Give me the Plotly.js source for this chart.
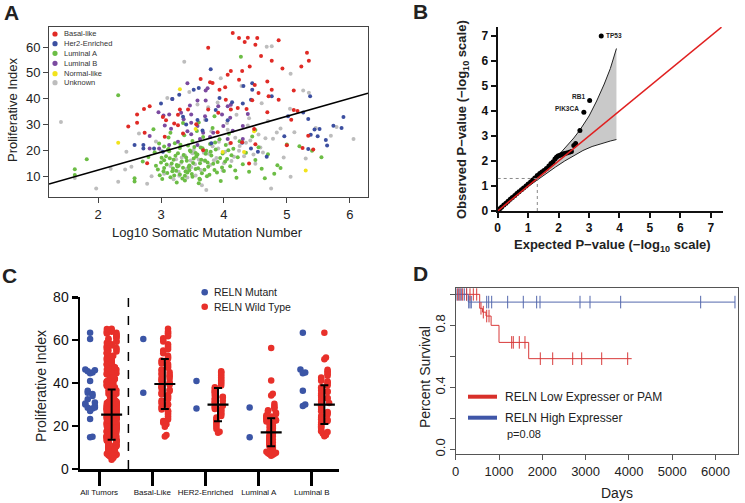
<!DOCTYPE html>
<html><head><meta charset="utf-8">
<script src="https://cdn.plot.ly/plotly-3.0.1.min.js"></script>
<style>html,body{margin:0;padding:0;background:#fff}#p{width:745px;height:503px}</style>
</head><body><div id="p"></div>
<script>
// ---------- Panel A data (Log10 somatic mutation number vs proliferative index) ----------
const basalX=[4.14,4.24,4.38,4.53,4.33,4.50,4.87,3.75,5.32,5.35,4.76,4.59,5.23,4.93,4.11,4.29,4.24,3.63,3.78,3.82,3.93,4.02,4.49,4.69,4.55,4.71,4.76,5.11,4.87,4.45,4.03,4.11,4.22,3.91,3.75,3.43,3.30,3.03,3.08,3.21,2.82,2.73,2.62,2.62,2.48,2.74,3.06,3.27,3.56,3.35,3.90,4.11,4.29,4.48,5.07,5.11,5.17,5.25,5.00,5.42,5.34,4.50,2.78,4.40,3.27,3.67,4.69,4.36,4.41,4.06];
const basalY=[65.4,63.5,63.6,63.5,61.9,60.9,62.6,59.7,57.8,54.7,54.7,56.5,52.4,51.7,50.7,50.7,47.3,47.6,46.3,46.0,43.4,44.4,45.3,46.6,42.2,40.9,43.4,43.1,39.6,39.4,39.6,35.8,36.4,34.5,35.8,35.8,35.8,32.9,31.6,30.3,37.0,36.0,33.8,30.6,29.2,26.8,25.2,29.7,30.1,26.5,27.0,22.8,23.1,28.2,31.8,35.6,35.2,20.9,21.9,20.3,25.6,22.3,14.9,14.8,33.7,20.0,34.7,36.0,52.4,49.2];
const her2X=[3.79,4.31,4.45,4.45,4.76,4.43,4.30,3.60,3.52,3.29,3.18,3.00,3.93,4.13,3.87,3.35,3.72,3.58,3.66,4.06,5.02,5.26,5.37,5.34,5.44,5.52,5.38,5.49,5.62,5.64,5.74,5.87,5.90,5.34,4.96,4.68,4.54,4.43,4.29,3.80,2.58,2.72,2.72,2.89,3.40,3.03];
const her2Y=[51.4,44.9,45.9,43.4,40.9,39.6,38.1,44.1,43.4,41.5,39.8,38.1,40.2,38.6,35.6,33.0,31.7,31.7,27.6,31.6,33.2,34.6,40.9,32.1,28.0,28.2,26.0,25.4,24.0,21.8,29.5,28.6,32.9,20.5,25.4,17.5,19.4,20.7,22.9,22.7,22.0,22.0,20.7,20.7,30.0,19.4];
const lumAX=[1.63,1.63,1.82,2.32,2.58,2.58,2.71,2.80,2.90,2.95,2.98,3.00,3.02,3.05,3.05,3.08,3.10,3.12,3.13,3.15,3.17,3.20,3.22,3.24,3.25,3.27,3.30,3.30,3.33,3.35,3.37,3.38,3.40,3.42,3.43,3.45,3.47,3.50,3.50,3.52,3.55,3.57,3.58,3.60,3.62,3.63,3.65,3.67,3.70,3.72,3.73,3.75,3.78,3.80,3.82,3.85,3.87,3.90,3.93,3.95,3.98,4.00,4.03,4.05,4.08,4.10,4.15,4.20,4.22,4.25,4.30,4.35,4.40,4.45,4.50,4.55,4.60,4.65,4.70,4.80,4.85,4.90,5.00,5.20,5.40,5.55,4.27,3.60,3.85,4.50,3.15,2.88,3.35,3.05,3.25,3.45,3.55,3.12,3.38,3.62,2.92,3.18,
  3.01,3.04,3.09,3.11,3.14,3.19,3.21,3.23,3.28,3.31,3.34,3.36,3.39,3.41,3.44,3.46,3.49,3.51,3.53,3.56,3.59,3.61,3.64,3.66,3.69,3.71,3.74,3.77,3.79,3.83,3.86,3.89,3.94,3.97,4.02,4.07,4.12,4.18,2.97,3.26];
const lumAY=[12.6,10.4,16.5,41.3,9.1,7.9,15.6,17.4,19.2,12.5,10.3,15.2,8.8,21.4,13.1,17.7,11.2,24.9,19.6,9.5,14.8,16.3,22.7,12.0,7.5,18.8,10.6,20.9,15.6,13.2,25.8,8.3,17.2,11.4,21.8,14.1,19.5,9.7,23.6,16.8,12.7,27.4,18.3,7.2,14.9,21.0,11.1,25.1,16.0,19.8,9.9,13.6,22.4,17.9,28.6,12.3,20.3,15.4,24.2,8.1,18.7,11.9,22.0,16.6,26.4,13.8,20.6,9.3,17.3,23.5,14.6,19.0,11.6,25.3,16.2,21.1,12.8,9.1,18.4,10.9,14.2,13.1,22.2,21.5,19.8,17.3,56.2,30.7,33.2,27.8,26.8,28.1,30.5,16.1,14.3,12.2,18.9,20.5,10.1,8.6,14.0,11.8,
  17.1,11.8,14.5,20.2,16.9,12.9,10.2,17.8,14.0,22.1,9.0,18.1,11.7,15.9,13.5,19.9,10.8,15.0,21.2,17.6,13.0,8.9,16.3,20.8,12.4,18.6,15.2,10.5,19.4,14.7,23.0,11.4,17.0,13.3,15.6,20.0,18.0,12.1,22.6,13.7];
const lumBX=[3.42,3.71,3.74,3.18,3.46,3.58,3.71,3.91,4.06,4.11,4.38,4.10,3.97,3.70,3.48,3.32,3.13,3.04,2.96,3.48,3.36,3.58,3.67,3.83,3.99,4.14,4.30,2.82,3.16,3.06,3.48,3.62,4.06,4.30,2.82,2.97,3.13,3.27,3.42,3.78,3.58];
const lumBY=[45.9,43.1,44.0,39.8,37.3,39.3,39.3,37.0,37.0,37.6,34.0,32.6,33.8,33.2,33.8,34.5,33.8,33.4,34.7,30.6,32.0,29.4,26.8,26.8,29.4,27.5,29.4,25.5,28.3,29.6,26.2,24.3,24.3,24.3,20.7,20.7,22.0,23.3,27.3,25.1,22.0];
const normX=[3.30,2.32,3.98,4.32,5.30,4.48,3.55];
const normY=[43.6,22.9,19.3,19.3,12.1,27.3,28.2];
const unkX=[1.41,6.06,1.97,4.75,5.06,3.37,4.68,4.76,5.06,5.26,5.35,5.46,5.79,5.70,2.32,2.53,2.43,1.63,2.78,3.05,3.15,3.20,3.28,3.32,3.38,3.42,3.48,3.52,3.55,3.60,3.65,3.68,3.72,3.78,3.82,3.88,3.92,3.98,4.02,4.06,4.12,4.18,4.25,4.32,4.38,4.42,4.50,4.55,4.62,4.70,4.78,4.90,4.95,5.12,5.30,3.10,3.45,3.95,4.20,3.75,4.60,5.05,2.92,2.65,3.58,4.28,3.70,3.90,2.45,2.20,
  3.29,3.33,3.41,3.47,3.54,3.63,3.69,3.76,3.84,3.91,4.00,4.09,4.16,4.24,4.35,4.47,4.58,4.66,4.84,3.24,3.50,3.80,4.05,4.40,2.85,3.00];
const unkY=[30.9,24.3,5.2,5.2,9.7,54.3,60.1,60.3,49.6,43.1,42.3,28.6,29.0,25.6,7.8,13.6,12.5,9.2,7.0,10.9,13.9,8.7,11.6,15.1,17.9,9.4,13.4,20.1,10.2,16.4,6.4,19.0,4.6,14.3,21.5,17.0,23.3,12.1,19.4,27.9,15.8,24.8,21.6,17.7,29.6,23.8,14.7,26.1,19.1,31.3,24.4,28.4,17.2,27.0,16.8,40.2,42.6,47.9,33.7,36.6,38.2,36.1,23.4,26.5,37.7,44.9,31.8,38.5,19.4,12.8,
  10.1,17.2,12.8,16.0,14.6,12.3,15.8,18.6,16.1,20.7,14.9,22.6,17.5,19.8,22.9,18.3,21.0,24.6,26.9,16.5,18.8,27.3,30.5,32.4,9.9,19.8];
const fitSlope=6.94, fitIntercept=-1.57;
const subtypeNames=['Basal-like','Her2-Enriched','Luminal A','Luminal B','Normal-like','Unknown'];

// ---------- Panel B data (QQ plot) ----------
const expP=[0.03,0.08,0.13,0.20,0.27,0.34,0.41,0.48,0.56,0.63,0.70,0.78,0.85,0.93,1.00,1.08,1.15,1.22,1.30,1.38,1.45,1.52,1.60,1.68,1.75,1.82,1.88,1.93,1.98,2.03,2.08,2.14,2.20,2.27,2.35,2.42,2.50,2.56,2.70,2.83,3.02,3.40];
const obsP=[0.05,0.10,0.16,0.24,0.31,0.39,0.47,0.54,0.62,0.70,0.77,0.85,0.92,1.00,1.08,1.16,1.24,1.32,1.42,1.50,1.56,1.62,1.70,1.80,1.90,1.97,2.08,2.15,2.20,2.22,2.25,2.28,2.30,2.32,2.35,2.38,2.62,2.70,3.22,3.95,4.42,7.00];
const geneLabels=[{gene:'TP53',i:41,side:'right'},{gene:'RB1',i:40,side:'left'},{gene:'PIK3CA',i:39,side:'left'}];
const bandUpperX=[1.0,1.3,1.6,1.9,2.2,2.5,2.7,3.0,3.25,3.5,3.7,3.9];
const bandUpperY=[1.02,1.36,1.72,2.10,2.50,2.92,3.24,3.80,4.40,5.08,5.70,6.50];
const bandLowerX=[1.0,1.3,1.6,1.9,2.2,2.5,2.8,3.1,3.4,3.7,3.9];
const bandLowerY=[0.98,1.25,1.50,1.76,2.00,2.22,2.42,2.58,2.70,2.80,2.86];
const refLine=[0,7.35];
const sigThreshold=-Math.log10(0.05);

// ---------- Panel C data (RELN mutant vs wild type) ----------
const groups=['All Tumors','Basal-Like','HER2-Enriched','Luminal A','Luminal B'];
const basalMut=[60.6,35.5], her2Mut=[41.0,28.2], lumAMut=[28.7,14.8], lumBMut=[63.5,46.4,45.0,44.6,36.5,30.0,29.3];
const otherMut=[46.0,45.5,35.0,34.0,32.5,31.0,30.5,28.5,27.0,23.3,15.0];
const basalWT=[65.3,64.2,63.5,63.1,62.4,61.8,60.9,60.2,59.4,58.1,57.3,56.6,55.2,54.7,53.9,52.8,52.1,51.4,50.6,49.8,49.1,48.5,47.7,47.2,46.4,45.9,45.1,44.6,43.8,43.2,42.7,42.1,41.5,40.9,40.3,39.8,39.2,38.7,38.1,37.5,36.9,36.3,35.8,35.1,34.5,33.9,33.2,32.6,31.9,31.2,30.6,29.8,29.1,28.4,27.7,26.9,26.2,25.5,24.6,23.8,23.1,22.4,21.6,20.8,19.7,15.8,15.2,55.8,48.9,44.2,41.8,38.4,34.8,30.2,27.1];
const her2WT=[45.5,45.1,44.3,43.6,42.8,41.9,41.2,40.5,39.8,38.9,38.1,37.4,36.6,35.8,35.1,34.3,33.7,33.0,32.4,31.8,31.1,30.5,29.9,29.2,28.6,28.0,27.3,26.7,26.0,25.4,24.7,24.0,23.2,22.4,21.5,20.6,19.7,18.6,17.4,16.9,31.6,29.5,27.8,33.4,36.1];
const lumAWT=[56.4,41.2,35.1,34.2,30.4,29.3,28.8,28.1,27.4,26.9,26.2,25.6,25.1,24.5,24.0,23.5,23.0,22.6,22.1,21.6,21.2,20.7,20.3,19.9,19.5,19.1,18.7,18.3,17.9,17.5,17.1,16.8,16.4,16.0,15.7,15.3,15.0,14.6,14.3,13.9,13.6,13.2,12.9,12.5,12.2,11.8,11.5,11.1,10.8,10.4,10.1,9.7,9.4,9.0,8.7,8.3,8.0,7.6,7.3,6.9,6.6,6.2,18.9,17.2,15.5,14.1,12.7,11.3,9.9,8.5,7.1,20.1,16.6,13.4,10.6,22.8,19.4,24.3];
const lumBWT=[63.5,52.0,51.1,46.2,45.5,44.9,44.1,43.4,42.6,41.9,41.1,40.4,39.6,38.9,38.1,37.4,36.6,35.9,35.1,34.4,33.6,32.9,32.1,31.4,30.7,29.9,29.2,28.4,27.7,26.9,26.2,25.4,24.7,23.9,23.2,22.4,21.7,20.9,20.2,19.4,18.7,17.9,17.2,16.5,15.8,15.3,30.3,28.9,26.5,22.9,19.9,17.6,33.1,36.2,40.8];
const otherWT=[4.3,5.1,5.8,6.4,7.7,8.6,9.3,10.5,11.2,12.4,13.1,13.9,14.8,15.6,16.9,17.5,18.2,19.6,20.4,21.3,22.1,23.7,24.2,25.8,26.3,27.5,28.6,29.4,30.8,31.3,32.7,33.5,34.6,35.9,36.4,37.8,38.3,39.7,40.6,41.4,42.9,43.5,44.8,45.3,46.7,47.4,48.8,49.6,50.9,51.7,52.6,53.8,54.3,55.7,56.9,57.6,58.8,59.3,60.7,61.5,62.8,63.9,64.7,65.2,12.8,16.2,19.1,22.7,25.1,27.9];
const wtMean=[25.3,39.6,30.0,17.1,30.0];
const wtSD=[11.7,11.7,7.7,6.5,9.0];

// ---------- Panel D data (Kaplan-Meier) ----------
const redStepDays=[0,554,620,700,818,1000,1686,4065];
const redStepSurv=[1.0,0.91,0.885,0.86,0.80,0.69,0.585,0.585];
const redCensor=[46,99,162,254,330,407,485,584,638,716,769,1293,1330,1469,1600,1954,2240,2702,2910,3372,3972];
const blueStepDays=[0,291,6450];
const blueStepSurv=[1.0,0.95,0.95];
const blueCensor=[7,60,100,139,199,250,300,330,360,716,762,831,1200,1561,1870,1947,2871,3102,3810,5658,6450];

// ---------- helpers ----------
const W=745,H=503;
const px=x=>x/W, py=y=>1-y/H;
const F='Liberation Sans, Arial, Helvetica, sans-serif';
const colA={red:'#e02a25',blue:'#3c4fa0',green:'#6cbd45',purple:'#7b4aa0',yellow:'#f2e31c',grey:'#bdbdbd'};
const cBlue='#3b55a6', cRed='#e8302a';

function swarm(vals, center, step, maxK, binw){
  const idx=vals.map((v,i)=>i).sort((a,b)=>vals[a]-vals[b]);
  const xs=new Array(vals.length), placed=[];
  idx.forEach(i=>{
    const v=vals[i];
    let c=0; for(const p of placed){ if(Math.abs(p-v)<binw) c++; }
    placed.push(v);
    const k=c%(2*maxK+1);
    const slot=k===0?0:(k%2?(k+1)/2:-k/2);
    xs[i]=center+slot*step;
  });
  return xs;
}
function survAt(days, sdays, ssurv){
  let s=ssurv[0];
  for(let j=0;j<sdays.length;j++){ if(sdays[j]<=days) s=ssurv[j]; }
  return s;
}

const traces=[];
// Panel A
const ser=[[unkX,unkY,colA.grey],[lumAX,lumAY,colA.green],[lumBX,lumBY,colA.purple],[her2X,her2Y,colA.blue],[normX,normY,colA.yellow],[basalX,basalY,colA.red]];
ser.forEach(s=>traces.push({type:'scatter',mode:'markers',x:s[0],y:s[1],xaxis:'x',yaxis:'y',marker:{size:4,color:s[2]},hoverinfo:'skip'}));
const aRange=[1.22,6.29];
traces.push({type:'scatter',mode:'lines',x:aRange,y:aRange.map(v=>fitIntercept+fitSlope*v),xaxis:'x',yaxis:'y',line:{color:'#000',width:1.6}});

// Panel B
traces.push({type:'scatter',mode:'lines',x:bandUpperX.concat(bandLowerX.slice().reverse()),y:bandUpperY.concat(bandLowerY.slice().reverse()),fill:'toself',fillcolor:'#c9c9c9',line:{width:0},xaxis:'x2',yaxis:'y2'});
traces.push({type:'scatter',mode:'lines',x:bandUpperX,y:bandUpperY,line:{color:'#222',width:1},xaxis:'x2',yaxis:'y2'});
traces.push({type:'scatter',mode:'lines',x:bandLowerX,y:bandLowerY,line:{color:'#222',width:1},xaxis:'x2',yaxis:'y2'});
traces.push({type:'scatter',mode:'markers',x:expP,y:obsP,marker:{size:5,color:'#000'},xaxis:'x2',yaxis:'y2'});
traces.push({type:'scatter',mode:'lines',x:refLine,y:refLine,line:{color:'#e02020',width:1.6},xaxis:'x2',yaxis:'y2'});

// Panel C
const mutGroups=[basalMut.concat(her2Mut,lumAMut,lumBMut,otherMut),basalMut,her2Mut,lumAMut,lumBMut];
const wtGroups=[basalWT.concat(her2WT,lumAWT,lumBWT,otherWT),basalWT,her2WT,lumAWT,lumBWT];
const mutOff=-0.17, wtOff=0.235;
mutGroups.forEach((g,i)=>{
  traces.push({type:'scatter',mode:'markers',x:swarm(g,i+mutOff,0.045,2,2.2),y:g,marker:{size:6.5,color:cBlue},xaxis:'x3',yaxis:'y3'});
});
wtGroups.forEach((g,i)=>{
  traces.push({type:'scatter',mode:'markers',x:swarm(g,i+wtOff,0.03,3,2.4),y:g,marker:{size:6.5,color:cRed},xaxis:'x3',yaxis:'y3'});
});
traces.push({type:'scatter',mode:'markers',x:groups.map((g,i)=>i+wtOff),y:wtMean,
  error_y:{type:'data',array:wtSD,color:'#000',thickness:2,width:4},
  marker:{symbol:'line-ew',size:15,line:{color:'#000',width:2.2},color:'#000'},xaxis:'x3',yaxis:'y3'});

// Panel D
traces.push({type:'scatter',mode:'lines',x:redStepDays,y:redStepSurv,line:{shape:'hv',color:'#d83a3a',width:1},xaxis:'x4',yaxis:'y4'});
traces.push({type:'scatter',mode:'lines',x:blueStepDays,y:blueStepSurv,line:{shape:'hv',color:'#5468ad',width:1},xaxis:'x4',yaxis:'y4'});
traces.push({type:'scatter',mode:'markers',x:blueCensor,y:blueCensor.map(d=>survAt(d,blueStepDays,blueStepSurv)),marker:{symbol:'line-ns',size:9,line:{color:'#5468ad',width:1}},xaxis:'x4',yaxis:'y4'});
traces.push({type:'scatter',mode:'markers',x:redCensor,y:redCensor.map(d=>survAt(d,redStepDays,redStepSurv)),marker:{symbol:'line-ns',size:9,line:{color:'#d83a3a',width:1}},xaxis:'x4',yaxis:'y4'});

const ann=[], shapes=[];
function txt(x,y,t,o){ann.push(Object.assign({xref:'paper',yref:'paper',x:px(x),y:py(y),xanchor:'center',yanchor:'middle',text:t,showarrow:false,font:{family:F,size:13,color:'#222'}},o||{}));}
// panel letters
[['A',11,13],['B',420,12],['C',9,275],['D',420,273]].forEach(l=>txt(l[1],l[2],'<b>'+l[0]+'</b>',{font:{family:F,size:21,color:'#222'}}));
// axis titles
txt(12,110,'Proliferative Index',{textangle:-90,font:{family:F,size:13,color:'#222'}});
txt(208,232,'Log10 Somatic Mutation Number',{font:{family:F,size:13,color:'#222'}});
txt(463,120,'<b>Observed P−value (−log<sub>10</sub> scale)</b>',{textangle:-90,font:{family:F,size:13,color:'#222'}});
txt(612,245,'<b>Expected P−value (−log<sub>10</sub> scale)</b>',{font:{family:F,size:13,color:'#222'}});
txt(41,386,'Proliferative Index',{textangle:-90,font:{family:F,size:14,color:'#222'}});
txt(425,377,'Percent Survival',{textangle:-90,font:{family:F,size:14,color:'#222'}});
txt(617,493,'Days',{font:{family:F,size:14,color:'#222'}});
// A legend
const legCols=[colA.red,colA.blue,colA.green,colA.purple,colA.yellow,colA.grey];
const legY=[34,43.7,53.3,63.3,73.7,82.7];
subtypeNames.forEach((n,i)=>{
  txt(62,legY[i],n,{xanchor:'left',font:{family:F,size:7.5,color:'#333'}});
  shapes.push({type:'circle',xref:'paper',yref:'paper',xsizemode:'pixel',ysizemode:'pixel',xanchor:px(55),yanchor:py(legY[i]),x0:-2.6,x1:2.6,y0:-2.6,y1:2.6,fillcolor:legCols[i],line:{width:0}});
});
// B gene labels
geneLabels.forEach(g=>{
  ann.push({xref:'x2',yref:'y2',x:expP[g.i],y:obsP[g.i],text:'<b>'+g.gene+'</b>',showarrow:false,yanchor:'middle',
    xanchor:g.side==='right'?'left':'right',xshift:g.side==='right'?3:-3,yshift:g.side==='right'?1:4,font:{family:F,size:6.5,color:'#222'}});
});
// C legend
[['RELN Mutant',cBlue,292.3],['RELN Wild Type',cRed,306.7]].forEach(l=>{
  txt(212,l[2],l[0],{xanchor:'left',font:{family:F,size:10.5,color:'#222'}});
  shapes.push({type:'circle',xref:'paper',yref:'paper',xsizemode:'pixel',ysizemode:'pixel',xanchor:px(204.7),yanchor:py(l[2]),x0:-3.3,x1:3.3,y0:-3.3,y1:3.3,fillcolor:l[1],line:{width:0}});
});
// D legend
[['RELN Low Expresser or PAM','#d8302a',396.7],['RELN High Expresser','#3f56a8',417.7]].forEach(l=>{
  txt(503,l[2],l[0],{xanchor:'left',font:{family:F,size:12,color:'#222'}});
  shapes.push({type:'line',xref:'paper',yref:'paper',x0:px(468),x1:px(497),y0:py(l[2]),y1:py(l[2]),line:{color:l[1],width:4}});
});
txt(505,433.5,'p=0.08',{xanchor:'left',font:{family:F,size:11,color:'#222'}});
// B threshold dotted lines
shapes.push({type:'line',xref:'x2',yref:'y2',x0:0,x1:sigThreshold,y0:sigThreshold,y1:sigThreshold,line:{color:'#888',width:1,dash:'dot'}});
shapes.push({type:'line',xref:'x2',yref:'y2',x0:sigThreshold,x1:sigThreshold,y0:0,y1:sigThreshold,line:{color:'#888',width:1,dash:'dot'}});
// C divider
shapes.push({type:'line',xref:'x3',yref:'y3',x0:0.55,x1:0.55,y0:0,y1:80,line:{color:'#000',width:1.5,dash:'dash'}});

const baseAx={showgrid:false,zeroline:false,ticks:'outside',showline:true,tickfont:{family:F,size:13,color:'#222'}};
const layout={
  width:W,height:H,margin:{l:0,r:0,t:0,b:0},paper_bgcolor:'#fff',plot_bgcolor:'rgba(0,0,0,0)',showlegend:false,
  font:{family:F},
  xaxis:Object.assign({},baseAx,{domain:[px(49),px(368)],range:aRange,anchor:'y',mirror:true,linecolor:'#444',linewidth:1,tickcolor:'#444',ticklen:5,tickvals:[2,3,4,5,6]}),
  yaxis:Object.assign({},baseAx,{domain:[py(197),py(27)],range:[1.86,67.75],anchor:'x',mirror:true,linecolor:'#444',linewidth:1,tickcolor:'#444',ticklen:5,tickvals:[10,20,30,40,50,60]}),
  xaxis2:Object.assign({},baseAx,{domain:[px(497.7),px(723)],range:[0,7.4],anchor:'y2',linecolor:'#111',linewidth:2,tickcolor:'#111',tickwidth:2,ticklen:5,tickvals:[0,1,2,3,4,5,6,7],tickfont:{family:F,size:12,color:'#111',weight:'bold'}}),
  yaxis2:Object.assign({},baseAx,{domain:[py(211),py(27)],range:[0,7.36],anchor:'x2',linecolor:'#111',linewidth:2,tickcolor:'#111',tickwidth:2,ticklen:5,tickvals:[0,1,2,3,4,5,6,7],tickfont:{family:F,size:12,color:'#111',weight:'bold'}}),
  xaxis3:Object.assign({},baseAx,{domain:[px(80),px(339)],range:[-0.36,4.51],anchor:'y3',linecolor:'#000',linewidth:2.5,tickcolor:'#000',tickwidth:3,ticklen:14,tickvals:[0,1,2,3,4],ticktext:groups,tickfont:{family:F,size:8,color:'#111'}}),
  yaxis3:Object.assign({},baseAx,{domain:[py(469),py(297.3)],range:[0,80],anchor:'x3',linecolor:'#000',linewidth:2.5,tickcolor:'#000',tickwidth:2.5,ticklen:6,tickvals:[0,20,40,60,80],tickfont:{family:F,size:14,color:'#111'}}),
  xaxis4:Object.assign({},baseAx,{domain:[px(455.7),px(738.3)],range:[0,6527],anchor:'y4',mirror:true,linecolor:'#555',linewidth:1,tickcolor:'#555',ticklen:5,tickvals:[0,1000,2000,3000,4000,5000,6000],tickfont:{family:F,size:13,color:'#222'}}),
  yaxis4:Object.assign({},baseAx,{domain:[py(454),py(288.3)],range:[-0.03,1.039],anchor:'x4',mirror:true,linecolor:'#555',linewidth:1,tickcolor:'#555',ticklen:5,tickvals:[0,0.4,0.8],ticktext:['0.0','0.4','0.8'],tickangle:-90,tickfont:{family:F,size:13,color:'#222'},
    minor:{tickvals:[0.2,0.6,1.0],ticks:'outside',ticklen:5,tickcolor:'#555',showgrid:false}}),
  annotations:ann,shapes:shapes
};
Plotly.newPlot('p',traces,layout,{staticPlot:true});
</script></body></html>
